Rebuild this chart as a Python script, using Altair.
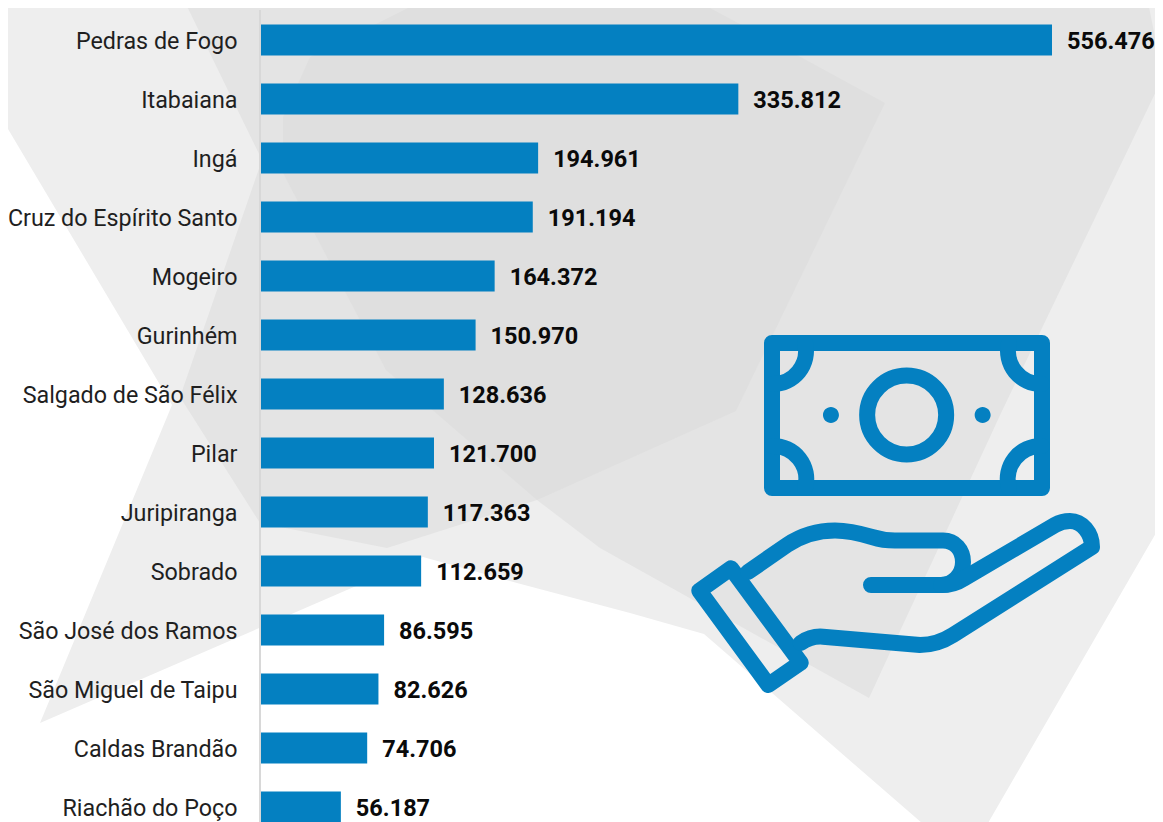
import altair as alt
import pandas as pd

cities = ["Pedras de Fogo", "Itabaiana", "Ingá", "Cruz do Espírito Santo", "Mogeiro",
          "Gurinhém", "Salgado de São Félix", "Pilar", "Juripiranga", "Sobrado",
          "São José dos Ramos", "São Miguel de Taipu", "Caldas Brandão", "Riachão do Poço"]
values = [556476, 335812, 194961, 191194, 164372, 150970, 128636, 121700, 117363, 112659,
          86595, 82626, 74706, 56187]
labels = [f"{v:,}".replace(",", ".") for v in values]

BLUE = "#0480C1"
# decorative artwork, page-pixel outlines drawn as custom symbols
bg_light = ("M-8 -8 L1163 -8 L1163 521 L984 830 L930 830 L704 634 L630 613 L517 583 L423 557 "
            "L40 723 L172 405 L-8 102 Z")
bg_mid = ("M180 -8 L1146 -8 L1163 77 L1002 411 L869 698 L600 548 L537 500 L387 548 L260 523 "
          "L180 397 L262 160 Z")
bg_dark = "M310 57 L440 -8 L680 -8 L738 23 L885 103 L736 411 L537 500 L386 370 L283 173 L283 117 Z"
note_frame = "M772 343 L1042 343 L1042 488 L772 488 Z"
note_corners = ("M772 384 A33 33 0 0 0 805 343 M1042 384 A33 33 0 0 1 1009 343 "
                "M772 446 A33 33 0 0 1 805 488 M1042 446 A33 33 0 0 0 1009 488")
note_ring = "M906.7 375.5 A39.5 39.5 0 1 1 906.6 375.5 Z"
note_dots = "M831 407 A8 8 0 1 1 830.9 407 Z M982.7 407 A8 8 0 1 1 982.6 407 Z"
hand_cuff = "M699.3 590.7 L731 568.3 L800.7 662.7 L768.3 685 Z"
hand_top = ("M748 572 L787 545 C802 535 818 530.5 835 530.5 C850 530.5 862 534 872 537 "
            "C880 539.5 888 540.5 895 540.5 L943 540.5 C955 540.5 963 550 963 562 "
            "C963 575 953 585 941 585 L871 585")
hand_finger = ("M941 585 C950 585 957 583 963 579 L1055 525 C1062 521 1066 521 1070 521 "
               "C1082 521 1092 533 1092 547 L953 635 C942 642 930 645 920 645 "
               "L823 636.7 C815 636 808 638 800.7 643")

W, H = 791, 814
base = pd.DataFrame({"city": cities, "value": values, "label": labels})


def art(path, fill=None, stroke=None, sw=16):
    kw = dict(shape=path, size=4, opacity=1)
    if fill:
        kw.update(filled=True, fill=fill, strokeWidth=0)
    else:
        kw.update(filled=False, stroke=stroke, strokeWidth=sw, strokeCap="round", strokeJoin="round")
    return alt.Chart(pd.DataFrame({"a": [0]})).mark_point(**kw).encode(
        x=alt.value(-261), y=alt.value(-8))


y = alt.Y("city:N", sort=cities, title=None,
          scale=alt.Scale(range=[2.5, 828.5], paddingInner=0.4746, paddingOuter=0.2373),
          axis=alt.Axis(domain=False, ticks=False, grid=False, labelPadding=24, zindex=1,
                        labelOffset=2, labelFont="Roboto", labelFontSize=23.3,
                        labelColor="#1f1f1f", labelLimit=300))
x = alt.X("value:Q", title=None, axis=None, scale=alt.Scale(domain=[0, 556476], nice=False))

rule = alt.Chart(pd.DataFrame({"a": [0]})).mark_rule(color="#d8d8d8", strokeWidth=2).encode(
    x=alt.value(-1), y=alt.value(2), y2=alt.value(H))
bars = alt.Chart(base).mark_bar(color=BLUE, opacity=1).encode(x=x, y=y)
text = alt.Chart(base).mark_text(align="left", baseline="middle", dx=15, dy=2, font="Roboto",
                                 fontWeight="bold", fontSize=23.5, color="#0a0a0a").encode(
    x=x, y=alt.Y("city:N", sort=cities), text="label:N")

chart = alt.layer(
    art(bg_light, fill="#EEEEEE"),
    art(bg_mid, fill="#E4E4E4"),
    art(bg_dark, fill="#DFDFDF"),
    rule, bars, text,
    art(note_frame, stroke=BLUE),
    art(note_corners, stroke=BLUE),
    art(note_ring, stroke=BLUE),
    art(note_dots, fill=BLUE),
    art(hand_cuff, stroke=BLUE),
    art(hand_top, stroke=BLUE),
    art(hand_finger, stroke=BLUE),
).properties(
    width=W, height=H, background="white",
    autosize=alt.AutoSizeParams(type="none"),
    padding={"left": 253, "top": 0, "right": 103, "bottom": 0},
).configure_view(stroke=None)

chart.save("out.html", embed_options={"renderer": "svg", "actions": False})
